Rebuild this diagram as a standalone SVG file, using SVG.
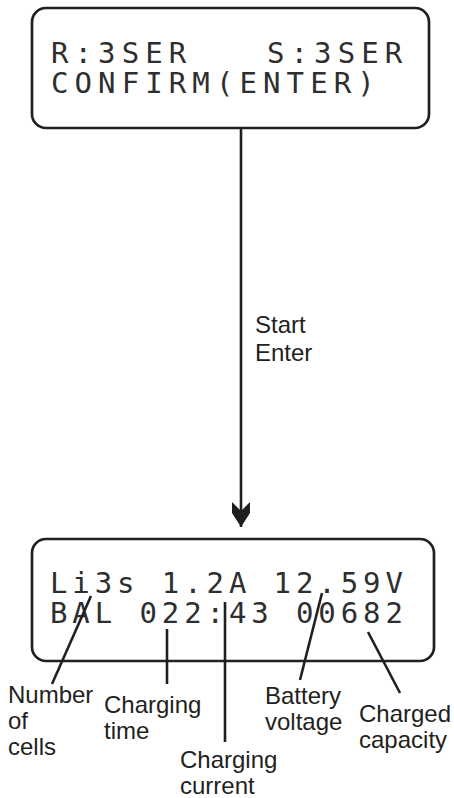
<svg xmlns="http://www.w3.org/2000/svg" width="454" height="798" viewBox="0 0 454 798">
  <style>
    .box { fill: #ffffff; stroke: #231f20; stroke-width: 2.7; }
    .lcd { font-family: "DejaVu Sans Mono", "Liberation Mono", monospace; font-size: 29px; fill: #2e2e2e; }
    .top { letter-spacing: 6.1px; }
    .bot { letter-spacing: 4.9px; }
    .lbl { font-family: "Liberation Sans", Arial, sans-serif; font-size: 24px; fill: #231f20; }
    .lead { stroke: #231f20; stroke-width: 2.6; fill: none; }
  </style>
  <defs>
    <marker id="arrow" markerUnits="userSpaceOnUse" markerWidth="26" markerHeight="20" refX="25" refY="9" orient="auto" viewBox="0 0 26 18">
      <path d="M9 9 L0 0 L11 0 L25 9 L11 18 L0 18 Z" fill="#231f20"/>
    </marker>
  </defs>
  <rect width="454" height="798" fill="#ffffff"/>

  <g id="node-setup">
    <rect class="box" x="32" y="8" width="397" height="120" rx="14" ry="14"/>
    <text class="lcd top" x="51" y="63">R:3SER</text>
    <text class="lcd top" x="267" y="63">S:3SER</text>
    <text class="lcd top" x="51" y="93">CONFIRM(ENTER)</text>
  </g>

  <g id="node-charging">
    <rect class="box" x="32" y="539" width="402" height="122" rx="14" ry="14"/>
    <text class="lcd bot" x="50" y="593">Li3s 1.2A 12.59V</text>
    <text class="lcd bot" x="50" y="623">BAL 022:43 00682</text>
  </g>

  <g id="connectors">
    <line class="lead" x1="241" y1="128" x2="241" y2="527" marker-end="url(#arrow)"/>
    <line class="lead" x1="91" y1="596" x2="52" y2="684"/>
    <line class="lead" x1="167" y1="629" x2="167" y2="684"/>
    <line class="lead" x1="225" y1="602" x2="225" y2="742"/>
    <line class="lead" x1="322" y1="593" x2="300" y2="680"/>
    <line class="lead" x1="368" y1="632" x2="400" y2="693"/>
  </g>

  <g id="label-start">
    <text class="lbl" x="255" y="333">Start</text>
    <text class="lbl" x="255" y="361">Enter</text>
  </g>
  <g id="label-cells">
    <text class="lbl" x="8" y="703">Number</text>
    <text class="lbl" x="8" y="729">of</text>
    <text class="lbl" x="8" y="755">cells</text>
  </g>
  <g id="label-time">
    <text class="lbl" x="104" y="713">Charging</text>
    <text class="lbl" x="104" y="739">time</text>
  </g>
  <g id="label-current">
    <text class="lbl" x="180" y="768">Charging</text>
    <text class="lbl" x="180" y="794">current</text>
  </g>
  <g id="label-voltage">
    <text class="lbl" x="265" y="704">Battery</text>
    <text class="lbl" x="265" y="730">voltage</text>
  </g>
  <g id="label-capacity">
    <text class="lbl" x="359" y="722">Charged</text>
    <text class="lbl" x="359" y="748">capacity</text>
  </g>
</svg>
